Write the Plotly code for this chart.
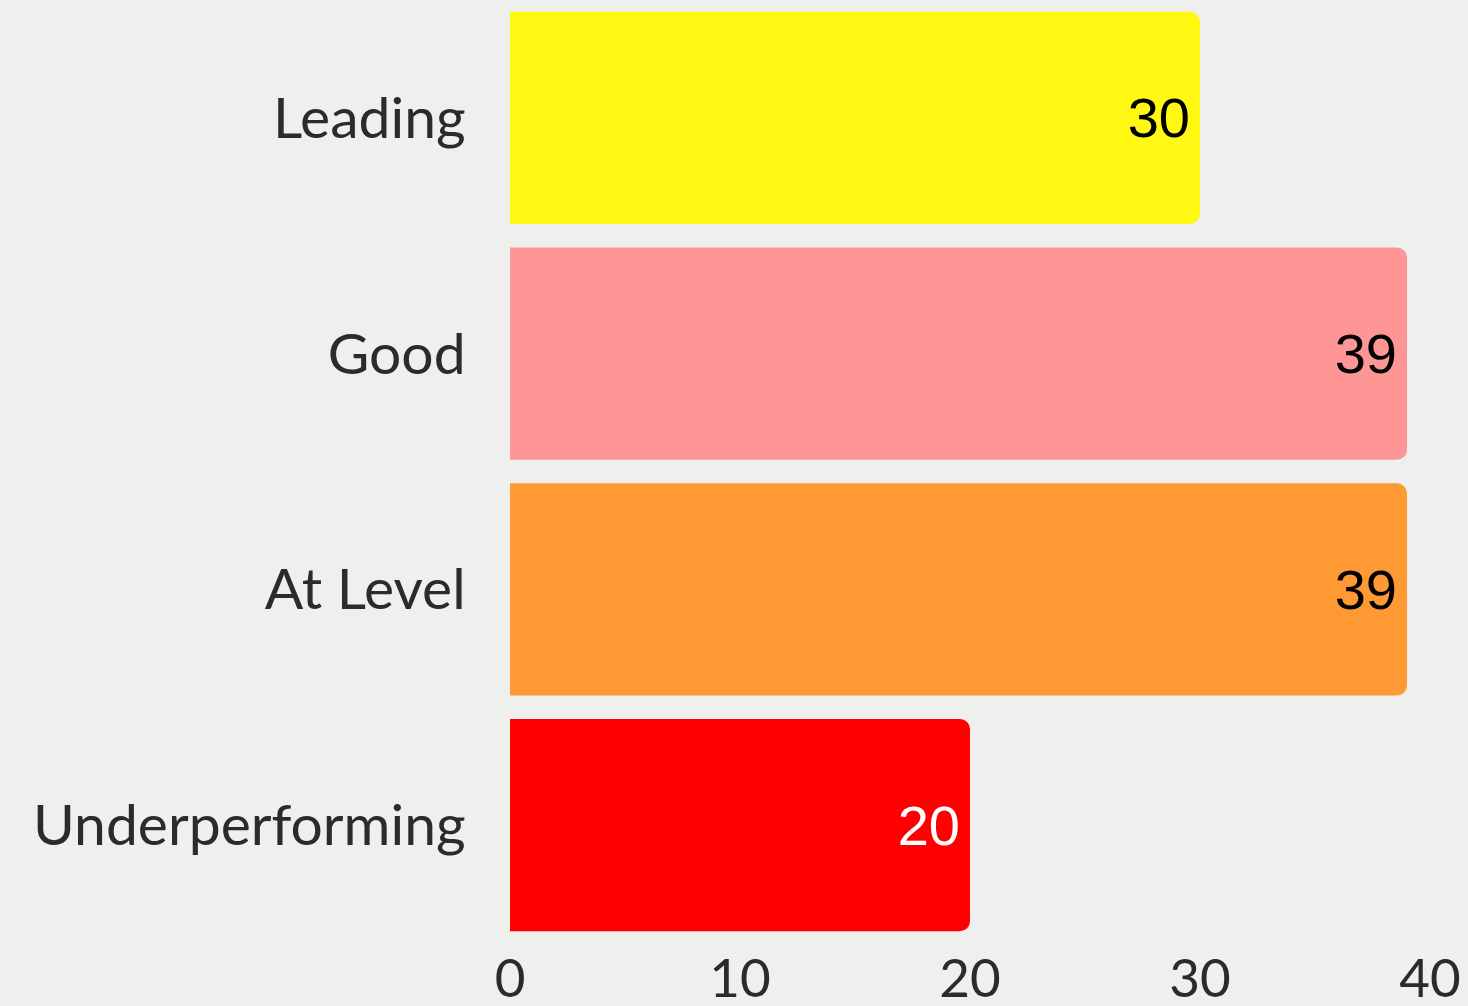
import plotly.graph_objects as go

categories = ["Leading", "Good", "At Level", "Underperforming"]
values = [30, 39, 39, 20]
bar_colors = ["#fff813", "#ff9696", "#ff9933", "#ff0000"]
text_colors = ["#000000", "#000000", "#000000", "#ffffff"]
tick_values = [0, 10, 20, 30, 40]

fig = go.Figure()

fig.add_trace(go.Bar(
    x=values,
    y=categories,
    orientation="h",
    marker=dict(color=bar_colors, line=dict(width=0)),
    text=values,
    textposition="inside",
    insidetextanchor="end",
    textangle=0,
    insidetextfont=dict(family="Liberation Sans, Arial", size=56, color=text_colors),
    hoverinfo="skip",
))

fig.update_layout(
    width=1468,
    height=1006,
    margin=dict(l=510, r=38, t=0, b=63),
    paper_bgcolor="#efefed",
    plot_bgcolor="#efefed",
    bargap=0.1,
    barcornerradius=10,
    showlegend=False,
    font=dict(family="Lato, Noto Sans, sans-serif", color="#2b2b2b", size=54),
    uniformtext=dict(minsize=10, mode="show"),
)

fig.update_xaxes(
    range=[0, 40],
    tickvals=tick_values,
    showgrid=False,
    zeroline=False,
    showline=False,
    automargin=False,
    ticks="",
    tickfont=dict(size=53),
)

fig.update_yaxes(
    categoryorder="array",
    categoryarray=categories,
    autorange="reversed",
    showgrid=False,
    zeroline=False,
    showline=False,
    automargin=False,
    ticks="outside",
    ticklen=32,
    tickcolor="rgba(0,0,0,0)",
    tickfont=dict(size=57),
)

fig.write_html(
    "out.html",
    config={"displayModeBar": False},
    post_script="document.body.style.margin='0';",
)
